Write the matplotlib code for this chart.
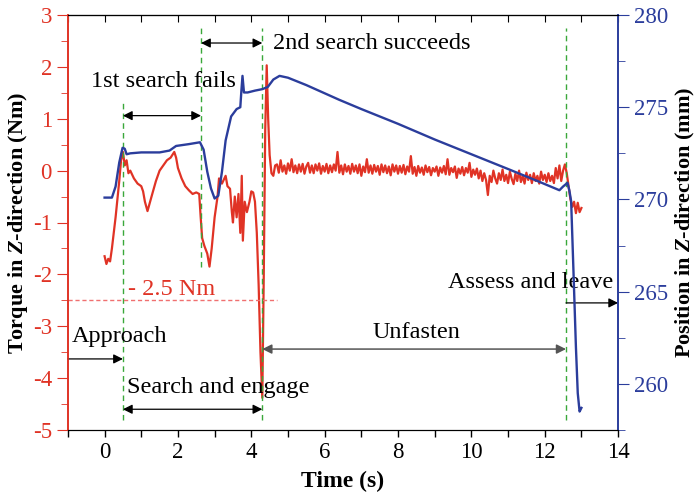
import matplotlib
matplotlib.use("Agg")
import matplotlib.pyplot as plt

plt.rcParams["font.family"] = ["Liberation Serif", "DejaVu Serif"]
plt.rcParams["mathtext.fontset"] = "custom"
plt.rcParams["mathtext.rm"] = "Liberation Serif"
plt.rcParams["mathtext.bfit"] = "Liberation Serif:italic:bold"
plt.rcParams["axes.unicode_minus"] = False
plt.rcParams["font.size"] = 16.5

# torque (Nm): approach / search part
torque_t = [0.0, 0.05, 0.1, 0.15, 0.2, 0.3, 0.4, 0.45, 0.5, 0.55, 0.6, 0.65, 0.7, 0.8,
            0.9, 1.0, 1.05, 1.1, 1.17, 1.22, 1.3, 1.4, 1.5, 1.6, 1.7, 1.8, 1.9, 1.95,
            2.0, 2.1, 2.2, 2.3, 2.4, 2.5, 2.58, 2.62, 2.66, 2.72, 2.8, 2.86, 2.92, 3.0,
            3.08, 3.12, 3.2, 3.3, 3.35, 3.42, 3.47, 3.5, 3.55, 3.6, 3.65, 3.7, 3.74,
            3.77, 3.82, 3.88, 3.95, 4.0, 4.05, 4.1, 4.15, 4.2, 4.25, 4.3, 4.34, 4.38,
            4.42, 4.46, 4.5, 4.55, 4.6, 4.65]
torque = [-1.65, -1.8, -1.7, -1.75, -1.5, -0.9, -0.2, 0.2, 0.36, 0.1, 0.2, -0.05, 0.0, -0.15,
          -0.25, -0.3, -0.4, -0.6, -0.78, -0.65, -0.45, -0.2, 0.0, 0.1, 0.2, 0.25, 0.36, 0.25,
          0.05, -0.15, -0.3, -0.38, -0.45, -0.42, -0.45, -0.9, -1.3, -1.45, -1.6, -1.85, -1.5, -0.9,
          -0.5, -0.15, -0.25, -0.1, -0.3, -0.35, -0.8, -1.0, -0.5, -0.9, -0.45, -1.2, -0.1,
          -1.35, -0.6, -0.8, -0.6, -0.4, -0.42, -0.6, -1.2, -2.2, -3.5, -4.38, -2.0, 0.8,
          2.03, 1.0, 0.3, -0.05, -0.1, 0.1]

# torque while unfastening (noisy band) and the leave part
unfasten_t = [4.70, 4.75, 4.80, 4.85, 4.90, 4.95, 5.00, 5.05, 5.10, 5.15,
              5.20, 5.25, 5.30, 5.35, 5.40, 5.45, 5.50, 5.55, 5.60, 5.65,
              5.70, 5.75, 5.80, 5.85, 5.90, 5.95, 6.00, 6.05, 6.10, 6.15,
              6.20, 6.25, 6.30, 6.35, 6.40, 6.45, 6.50, 6.55, 6.60, 6.65,
              6.70, 6.75, 6.80, 6.85, 6.90, 6.95, 7.00, 7.05, 7.10, 7.15,
              7.20, 7.25, 7.30, 7.35, 7.40, 7.45, 7.50, 7.55, 7.60, 7.65,
              7.70, 7.75, 7.80, 7.85, 7.90, 7.95, 8.00, 8.05, 8.10, 8.15,
              8.20, 8.25, 8.30, 8.35, 8.40, 8.45, 8.50, 8.55, 8.60, 8.65,
              8.70, 8.75, 8.80, 8.85, 8.90, 8.95, 9.00, 9.05, 9.10, 9.15,
              9.20, 9.25, 9.30, 9.35, 9.40, 9.45, 9.50, 9.55, 9.60, 9.65,
              9.70, 9.75, 9.80, 9.85, 9.90, 9.95, 10.00, 10.05, 10.10, 10.15,
              10.20, 10.25, 10.30, 10.35, 10.40, 10.45, 10.50, 10.55, 10.60, 10.65,
              10.70, 10.75, 10.80, 10.85, 10.90, 10.95, 11.00, 11.05, 11.10, 11.15,
              11.20, 11.25, 11.30, 11.35, 11.40, 11.45, 11.50, 11.55, 11.60, 11.65,
              11.70, 11.75, 11.80, 11.85, 11.90, 11.95, 12.00, 12.05, 12.10, 12.15,
              12.20, 12.25, 12.30, 12.35, 12.40, 12.45,
              12.50, 12.55, 12.60, 12.65, 12.70, 12.75, 12.80, 12.85, 12.90, 12.95, 13.00]
unfasten_torque = [0.12, -0.04, 0.2, -0.02, 0.1, -0.06, 0.14, 0.0, 0.22, -0.03,
                   0.1, -0.05, 0.12, -0.02, 0.13, -0.06, 0.08, 0.15, -0.04, 0.1,
                   -0.05, 0.12, 0.0, 0.14, -0.06, 0.09, -0.02, 0.13, -0.05, 0.1,
                   -0.03, 0.12, 0.0, 0.36, -0.04, 0.1, -0.07, 0.12, -0.02, 0.09,
                   -0.06, 0.13, -0.02, 0.1, -0.05, 0.12, -0.1, 0.08, -0.03, 0.22,
                   -0.04, 0.1, -0.06, 0.11, -0.02, 0.09, -0.08, 0.12, -0.03, 0.1,
                   -0.05, 0.08, -0.09, 0.12, -0.02, 0.1, -0.06, 0.09, -0.04, 0.11,
                   -0.07, 0.08, -0.02, 0.28, -0.06, 0.07, -0.1, 0.09, -0.04, 0.06,
                   -0.08, 0.1, -0.03, 0.07, -0.09, 0.05, -0.02, 0.08, -0.1, 0.06,
                   -0.04, 0.09, -0.07, 0.22, -0.08, 0.05, -0.03, 0.08, -0.14, 0.04,
                   -0.06, 0.07, -0.09, 0.05, -0.04, 0.15, -0.12, 0.02, -0.08, 0.04,
                   -0.15, 0.0, -0.2, -0.05, -0.18, -0.47, -0.1, -0.22, 0.0, -0.15,
                   -0.25, -0.05, -0.18, 0.02, -0.2, -0.08, -0.24, -0.02, -0.16, -0.26,
                   -0.06, -0.2, 0.0, -0.22, -0.1, -0.25, -0.04, -0.18, -0.08, -0.24,
                   -0.05, -0.2, -0.1, -0.25, -0.02, -0.18, -0.08, -0.22, -0.05, -0.2,
                   -0.1, -0.24, 0.05, -0.15, 0.1, -0.2,
                   0.0, 0.12, -0.05, -0.3, -0.55, -0.7, -0.6, -0.82, -0.62, -0.8, -0.72]

# position (mm)
pos_t = [0.0, 0.2, 0.3, 0.4, 0.49, 0.55, 0.6, 0.7, 1.0, 1.5, 1.77, 1.95, 2.3, 2.6, 2.7,
         2.8, 2.9, 3.0, 3.1, 3.2, 3.3, 3.45, 3.6, 3.7, 3.73, 3.76, 3.8, 3.9, 4.1, 4.3,
         4.45, 4.6, 4.77, 5.0, 5.5, 6.4, 7.0, 8.0, 9.0, 10.0, 11.0, 11.8, 12.4, 12.5,
         12.62, 12.67, 12.72, 12.78, 12.85, 12.9, 12.95, 13.0]
position = [270.1, 270.1, 270.7, 272.0, 272.8, 272.75, 272.45, 272.5, 272.55, 272.55, 272.65,
            272.9, 273.0, 273.1, 272.7, 271.5, 270.6, 270.05, 270.2, 271.5, 273.2, 274.5,
            274.9, 275.0, 275.9, 276.7, 275.8, 275.8, 275.9, 275.98, 276.1, 276.5, 276.7,
            276.6, 276.2, 275.4, 274.9, 274.1, 273.25, 272.45, 271.65, 271.0, 270.5, 270.7,
            270.9, 270.5, 269.9, 266.3, 262.0, 259.5, 258.5, 258.7]

phase_t = [0.5, 2.63, 4.3, 12.58]
phase_top = [1.35, 2.75, 2.75, 2.75]
phase_bottom = [-4.8, -1.85, -4.8, -4.8]

red = "#e03325"
blue = "#2b3d9c"
green = "#3aa83a"

fig = plt.figure(figsize=(7, 5), dpi=100)
ax1 = fig.add_axes([0.097, 0.14, 0.786, 0.83])
ax2 = ax1.twinx()

ax1.plot(torque_t + unfasten_t, torque + unfasten_torque, color=red, lw=1.6)
ax2.plot(pos_t, position, color=blue, lw=1.7)

for x, y0, y1 in zip(phase_t, phase_bottom, phase_top):
    ax1.plot([x, x], [y0, y1], color=green, lw=1, dashes=(4, 3))

ax1.plot([-1, 4.7], [-2.5, -2.5], color="#f07070", lw=1, dashes=(3, 2))

note = 17.5
ax1.text(0.63, -2.3, "- 2.5 Nm", color=red, va="center", fontsize=note)

arrow = dict(arrowstyle="<|-|>", color="black", lw=0.9, shrinkA=0, shrinkB=0, mutation_scale=14)
single = dict(arrowstyle="-|>", color="black", lw=0.9, shrinkA=0, shrinkB=0, mutation_scale=14)
grey = dict(arrowstyle="<|-|>", color="#555555", lw=1.1, shrinkA=0, shrinkB=0, mutation_scale=14)
ax1.annotate("", xy=(4.3, 2.46), xytext=(2.63, 2.46), arrowprops=arrow)
ax1.text(4.58, 2.46, "2nd search succeeds", va="center", fontsize=note)
ax1.annotate("", xy=(2.63, 1.06), xytext=(0.5, 1.06), arrowprops=arrow)
ax1.text(1.61, 1.71, "1st search fails", va="center", ha="center", fontsize=note)
ax1.annotate("", xy=(0.5, -3.63), xytext=(-1, -3.63), arrowprops=single)
ax1.text(-0.9, -3.2, "Approach", va="center", fontsize=note)
ax1.annotate("", xy=(4.3, -4.6), xytext=(0.5, -4.6), arrowprops=arrow)
ax1.text(0.6, -4.19, "Search and engage", va="center", fontsize=note)
ax1.annotate("", xy=(12.58, -3.44), xytext=(4.3, -3.44), arrowprops=grey)
ax1.text(8.5, -3.13, "Unfasten", va="center", ha="center", fontsize=note)
ax1.annotate("", xy=(14, -2.55), xytext=(12.58, -2.55), arrowprops=single)
ax1.text(9.35, -2.15, "Assess and leave", va="center", fontsize=note)

ax1.set_xlim(-1, 14)
ax1.set_ylim(-5, 3)
ax2.set_ylim(257.5, 280)

ax1.set_xticks(range(0, 15, 2))
ax1.set_xticks(range(-1, 15, 2), minor=True)
ax1.set_yticks(range(-5, 4))
ax1.set_yticks([v / 2 for v in range(-10, 7)], minor=True)
ax2.set_yticks(range(260, 281, 5))
ax2.set_yticks([257.5, 262.5, 267.5, 272.5, 277.5], minor=True)

ax1.tick_params(axis="x", which="both", direction="out", length=5, width=1)
ax1.tick_params(axis="y", which="major", direction="out", length=8, colors=red)
ax1.tick_params(axis="y", which="minor", direction="out", length=5, colors=red)
ax2.tick_params(axis="y", which="major", direction="out", length=8, colors=blue)
ax2.tick_params(axis="y", which="minor", direction="out", length=5, colors=blue)

top = ax1.secondary_xaxis("top")
top.set_xticks(range(-1, 15))
top.tick_params(direction="in", length=5, labeltop=False)

for a in (ax1, ax2):
    a.spines["left"].set_color(red)
    a.spines["right"].set_color(blue)
    a.spines["left"].set_linewidth(1.2)
    a.spines["right"].set_linewidth(1.2)

ax1.set_xlabel("Time (s)", fontweight="bold", fontsize=17, labelpad=6)
ax1.set_ylabel(r"Torque in $\mathbfit{Z}$-direction (Nm)", fontweight="bold", fontsize=16, labelpad=2)
ax2.set_ylabel(r"Position in $\mathbfit{Z}$-direction (mm)", fontweight="bold", fontsize=16, labelpad=4)

fig.savefig("out.png", dpi=100)
